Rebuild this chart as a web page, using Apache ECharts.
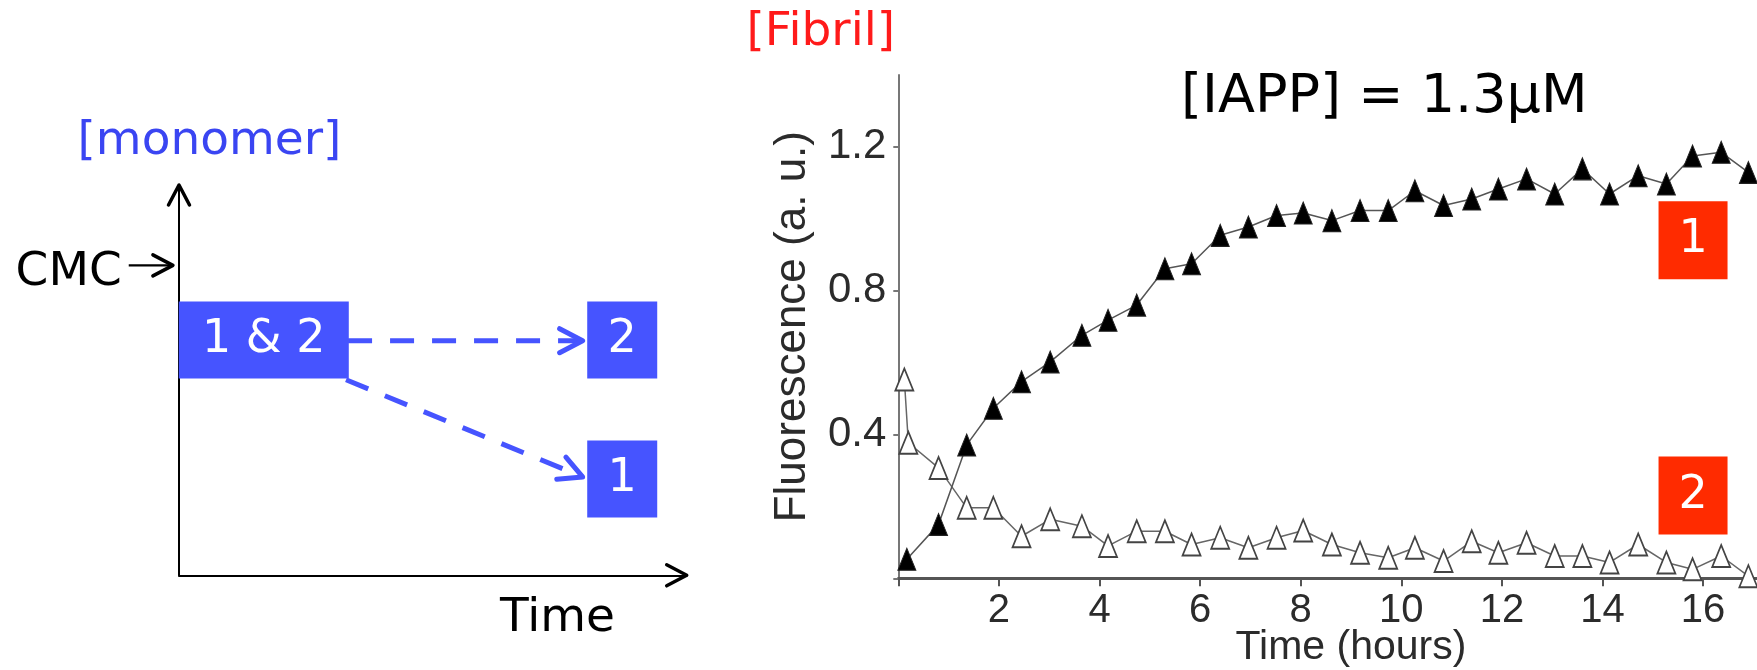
<!DOCTYPE html>
<html>
<head>
<meta charset="utf-8">
<title>IAPP monomer / fibril</title>
<script src="https://cdn.jsdelivr.net/npm/echarts@6.0.0/dist/echarts.min.js"></script>
<style>
    html, body { margin: 0; padding: 0; background: #fff; }
    #chart { width: 1757px; height: 670px; }
</style>
</head>
<body>
<div id="chart"></div>
<script>
// right panel: ThT fluorescence, [IAPP] = 1.3 uM
var filledTimes = [0.17, 0.80, 1.36, 1.89, 2.45, 3.02, 3.65, 4.17, 4.74, 5.30, 5.83, 6.40, 6.96, 7.52, 8.05,
    8.62, 9.18, 9.74, 10.27, 10.84, 11.40, 11.93, 12.49, 13.05, 13.60, 14.14, 14.71, 15.27, 15.79, 16.36, 16.90];
var filledValues = [0.053, 0.15, 0.371, 0.473, 0.547, 0.602, 0.676, 0.718, 0.76, 0.861, 0.875, 0.954, 0.977, 1.009, 1.016,
    0.995, 1.023, 1.023, 1.078, 1.037, 1.055, 1.083, 1.111, 1.069, 1.139, 1.069, 1.12, 1.097, 1.175, 1.185, 1.129];
var openTimes = [0.12, 0.20, 0.80, 1.36, 1.89, 2.45, 3.02, 3.65, 4.17, 4.74, 5.30, 5.83, 6.40, 6.96, 7.52, 8.05,
    8.62, 9.18, 9.74, 10.27, 10.84, 11.40, 11.93, 12.49, 13.05, 13.60, 14.14, 14.71, 15.27, 15.79, 16.36, 16.90];
var openValues = [0.553, 0.377, 0.307, 0.196, 0.196, 0.117, 0.164, 0.145, 0.09, 0.131, 0.131, 0.094, 0.113, 0.085, 0.113, 0.133,
    0.094, 0.071, 0.057, 0.085, 0.048, 0.103, 0.071, 0.099, 0.062, 0.062, 0.044, 0.094, 0.044, 0.025, 0.062, 0.006];
var xTickLabels = [2, 4, 6, 8, 10, 12, 14, 16];
var xTicks = [0, 2, 4, 6, 8, 10, 12, 14, 16];
var yTickLabels = [0.4, 0.8, 1.2];
var yTicks = [0, 0.4, 0.8, 1.2];
var curveTags = ['1', '2'];
var curveTagTimes = [15.8, 15.8];
var curveTagValues = [0.94, 0.23];

// left panel: schematic, arbitrary units 0..10 on both axes
var schemeBoxLabels = ['1 & 2', '2', '1'];
var schemeBoxTimes = [1.67, 8.73, 8.73];
var schemeBoxLevels = [6.03, 6.03, 2.47];
var arrowFrom = [[0, 0], [0, 0], [-0.99, 7.94], [3.33, 6.01], [3.29, 5.01]];
var arrowTo = [[0, 10], [10, 0], [-0.12, 7.94], [7.95, 6.01], [7.95, 2.52]];
var arrowKinds = ['axis', 'axis', 'cmc', 'dash', 'dash'];

var BLUE = '#4654ff';
var RED = '#ff2b00';
var SANS = '"DejaVu Sans", Verdana, sans-serif';
var ARIAL = 'Liberation Sans';

var arrowStyles = {
    axis: { color: '#000', shaft: 0, len: 20, half: 10.5, width: 3.5 },
    cmc: { color: '#000', shaft: 2.2, len: 20, half: 10.5, width: 3.5 },
    dash: { color: BLUE, shaft: 5, dash: [24, 18], len: 23, half: 12, width: 5 }
};

function renderArrow(params, api) {
    var p0 = api.coord([api.value(0), api.value(1)]);
    var p1 = api.coord([api.value(2), api.value(3)]);
    var st = arrowStyles[arrowKinds[params.dataIndex]];
    var ang = Math.atan2(p1[1] - p0[1], p1[0] - p0[0]);
    var bx = p1[0] - st.len * Math.cos(ang);
    var by = p1[1] - st.len * Math.sin(ang);
    var nx = -Math.sin(ang) * st.half;
    var ny = Math.cos(ang) * st.half;
    var children = [];
    if (st.shaft) {
        children.push({
            type: 'line',
            shape: { x1: p0[0], y1: p0[1], x2: p1[0], y2: p1[1] },
            style: { stroke: st.color, lineWidth: st.shaft, lineDash: st.dash || null }
        });
    }
    children.push({
        type: 'polyline',
        shape: { points: [[bx + nx, by + ny], [p1[0], p1[1]], [bx - nx, by - ny]] },
        style: { stroke: st.color, lineWidth: st.width, fill: null, lineCap: 'round', lineJoin: 'round' }
    });
    return { type: 'group', children: children };
}

function zip(xs, ys) {
    var out = [];
    for (var i = 0; i < xs.length; i++) {
        out.push([xs[i], ys[i]]);
    }
    return out;
}

var arrowData = [];
for (var i = 0; i < arrowFrom.length; i++) {
    arrowData.push(arrowFrom[i].concat(arrowTo[i]));
}

var schemeBoxData = [];
for (var j = 0; j < schemeBoxLabels.length; j++) {
    schemeBoxData.push({ name: schemeBoxLabels[j], value: [schemeBoxTimes[j], schemeBoxLevels[j]] });
}

var tagData = [];
for (var k = 0; k < curveTags.length; k++) {
    tagData.push({ name: curveTags[k], value: [curveTagTimes[k], curveTagValues[k]] });
}

var chart = echarts.init(document.getElementById('chart'), null, { renderer: 'canvas' });

var option = {
    animation: false,
    backgroundColor: '#fff',
    grid: [
        { left: 898.3, top: 75, width: 905.4, height: 503.3, outerBoundsMode: 'none', containLabel: false },
        { left: 179, top: 185, width: 507.7, height: 390.3, outerBoundsMode: 'none', containLabel: false }
    ],
    xAxis: [
        {
            type: 'value', gridIndex: 0, min: 0, max: 18,
            name: 'Time (hours)', nameLocation: 'middle', nameGap: 49, nameMoveOverlap: false,
            nameTextStyle: { fontFamily: ARIAL, fontSize: 41, color: '#2b2b2b' },
            axisLine: { lineStyle: { color: '#555', width: 3 } },
            axisTick: { show: true, length: 8, customValues: xTicks, lineStyle: { color: '#555', width: 2 } },
            axisLabel: { customValues: xTickLabels, fontFamily: ARIAL, fontSize: 40, color: '#2b2b2b', margin: 13, hideOverlap: false },
            splitLine: { show: false }
        },
        {
            type: 'value', gridIndex: 1, min: 0, max: 10,
            axisLine: { lineStyle: { color: '#000', width: 2 } },
            axisTick: { show: false }, axisLabel: { show: false }, splitLine: { show: false }
        }
    ],
    yAxis: [
        {
            type: 'value', gridIndex: 0, min: 0, max: 1.4,
            name: 'Fluorescence (a. u.)', nameLocation: 'middle', nameGap: 83, nameRotate: 90, nameMoveOverlap: false,
            nameTextStyle: { fontFamily: ARIAL, fontSize: 44, color: '#2b2b2b' },
            axisLine: { lineStyle: { color: '#777', width: 2 } },
            axisTick: { show: true, length: 5, customValues: yTicks, lineStyle: { color: '#777', width: 2 } },
            axisLabel: { customValues: yTickLabels, fontFamily: ARIAL, fontSize: 42, color: '#2b2b2b', margin: 12, hideOverlap: false },
            splitLine: { show: false }
        },
        {
            type: 'value', gridIndex: 1, min: 0, max: 10,
            axisLine: { lineStyle: { color: '#000', width: 2 } },
            axisTick: { show: false }, axisLabel: { show: false }, splitLine: { show: false }
        }
    ],
    series: [
        {
            name: 'open', type: 'line', xAxisIndex: 0, yAxisIndex: 0,
            data: zip(openTimes, openValues),
            symbol: 'triangle', symbolSize: [18, 22],
            itemStyle: { color: '#fff', borderColor: '#444', borderWidth: 1.8 },
            lineStyle: { color: '#666', width: 1.5 },
            z: 3
        },
        {
            name: 'filled', type: 'line', xAxisIndex: 0, yAxisIndex: 0,
            data: zip(filledTimes, filledValues),
            symbol: 'triangle', symbolSize: [18, 22],
            itemStyle: { color: '#000', borderColor: '#222', borderWidth: 1 },
            lineStyle: { color: '#555', width: 1.5 },
            z: 4
        },
        {
            name: 'tags', type: 'scatter', xAxisIndex: 0, yAxisIndex: 0,
            data: tagData,
            symbol: 'rect', symbolSize: [69, 78],
            itemStyle: { color: RED, opacity: 1 },
            label: {
                show: true, position: 'inside', formatter: '{b}',
                fontFamily: SANS, fontSize: 46, color: '#fff'
            },
            z: 5
        },
        {
            name: 'arrows', type: 'custom', xAxisIndex: 1, yAxisIndex: 1,
            coordinateSystem: 'cartesian2d', clip: false,
            renderItem: renderArrow,
            encode: { x: [0, 2], y: [1, 3] },
            data: arrowData,
            z: 3
        },
        {
            name: 'states', type: 'scatter', xAxisIndex: 1, yAxisIndex: 1,
            data: schemeBoxData,
            symbol: 'rect',
            symbolSize: function (val, params) {
                return params.name.length > 1 ? [170, 77] : [70, 77];
            },
            itemStyle: { color: BLUE, opacity: 1 },
            label: {
                show: true, position: 'inside', formatter: '{b}',
                fontFamily: SANS, fontSize: 46, color: '#fff'
            },
            z: 5
        }
    ],
    graphic: [
        { type: 'text', x: 209.4, y: 142, style: { text: '[monomer]', font: '47px ' + SANS, fill: '#3a45f2', textAlign: 'center', textVerticalAlign: 'middle' } },
        { type: 'text', x: 15.6, y: 273, style: { text: 'CMC', font: '47px ' + SANS, fill: '#000', textAlign: 'left', textVerticalAlign: 'middle' } },
        { type: 'text', x: 500, y: 619, style: { text: 'Time', font: '47px ' + SANS, fill: '#000', textAlign: 'left', textVerticalAlign: 'middle' } },
        { type: 'text', x: 746.5, y: 33, style: { text: '[Fibril]', font: '47px ' + SANS, fill: '#ff1a1a', textAlign: 'left', textVerticalAlign: 'middle' } },
        { type: 'text', x: 1181, y: 98, style: { text: '[IAPP] = 1.3μM', font: '54px ' + SANS, fill: '#000', textAlign: 'left', textVerticalAlign: 'middle' } }
    ]
};

chart.setOption(option);
</script>
</body>
</html>
